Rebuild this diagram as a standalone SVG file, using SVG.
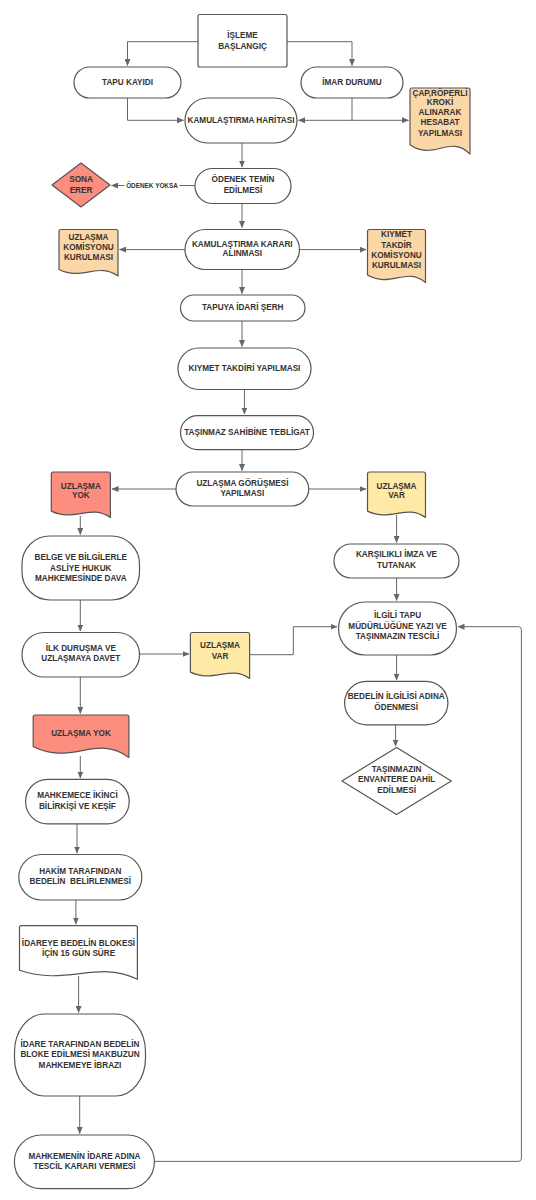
<svg xmlns="http://www.w3.org/2000/svg" width="536" height="1200" viewBox="0 0 536 1200">
<defs>
<marker id="ah" markerWidth="7" markerHeight="6" refX="6.5" refY="3" orient="auto" markerUnits="userSpaceOnUse"><path d="M0,0 L7,3 L0,6 z" fill="#666"/></marker>
</defs>
<style>
.n{fill:#fff;stroke:#555;stroke-width:1.2;stroke-linejoin:round}
.peach{fill:#FBD6A6}
.salmon{fill:#FC8D7F}
.yellow{fill:#FEEAA6}
.t{font-family:"Liberation Sans",Arial,sans-serif;font-weight:bold;font-size:8.2px;fill:#333;text-anchor:middle}
.lbl{font-size:6.4px}
.c{fill:none;stroke:#666;stroke-width:1;marker-end:url(#ah)}
</style>
<rect width="536" height="1200" fill="#fff"/>
<g id="connectors">
<path class="c" d="M198,41.7 H127.5 V65.5"/>
<path class="c" d="M287,41.7 H352 V65.5"/>
<path class="c" d="M127.5,98 V120.3 H183.5"/>
<path class="c" d="M352,98 V120.3 H298.5"/>
<path class="c" d="M352,120.3 H408.5"/>
<path class="c" d="M242,143 V167"/>
<path class="c" d="M195,185.5 H111.5"/>
<path class="c" d="M242,203.5 V227.5"/>
<path class="c" d="M185,249.6 H119.5"/>
<path class="c" d="M299.5,249.6 H366"/>
<path class="c" d="M242,269.5 V293.5"/>
<path class="c" d="M242,321 V346.5"/>
<path class="c" d="M244.4,389.6 V414"/>
<path class="c" d="M242,449.7 V470.5"/>
<path class="c" d="M176,489 H112"/>
<path class="c" d="M308.7,489 H366"/>
<path class="c" d="M80.3,516 V534.5"/>
<path class="c" d="M396.6,515 V542.5"/>
<path class="c" d="M396.6,578 V600.5"/>
<path class="c" d="M80.3,600 V631"/>
<path class="c" d="M139.5,654 H189"/>
<path class="c" d="M249.6,654.7 H293.3 V626.7 H337"/>
<path class="c" d="M396.6,655 V680"/>
<path class="c" d="M395.6,725 V746"/>
<path class="c" d="M80.3,677 V713.5"/>
<path class="c" d="M80.3,756 V778"/>
<path class="c" d="M77,824 V853"/>
<path class="c" d="M75.9,900 V924"/>
<path class="c" d="M78.6,976 V1012.5"/>
<path class="c" d="M79.7,1096 V1133.5"/>
<path class="c" d="M154.5,1161.4 H518.4 Q521.4,1161.4 521.4,1158.4 V629.7 Q521.4,626.7 518.4,626.7 H458"/>
<rect x="124.5" y="181" width="55" height="8.5" fill="#fff"/>
<text class="t lbl" x="152" y="187.6">ÖDENEK YOKSA</text>
</g>
<g id="n-start">
<rect class="n" x="198" y="14.5" width="89" height="52.5" rx="2"/>
<text class="t" x="242.5" y="38.4">İŞLEME</text>
<text class="t" x="242.5" y="49">BAŞLANGIÇ</text>
</g>
<g id="n-tapu">
<rect class="n" x="74" y="67" width="107" height="31" rx="15.5"/>
<text class="t" x="127.5" y="85.4">TAPU KAYIDI</text>
</g>
<g id="n-imar">
<rect class="n" x="301" y="67" width="102" height="31" rx="15.5"/>
<text class="t" x="352" y="85.4">İMAR DURUMU</text>
</g>
<g id="n-harita">
<rect class="n" x="185" y="98" width="112" height="45" rx="22.5"/>
<text class="t" x="241" y="123.2">KAMULAŞTIRMA HARİTASI</text>
</g>
<g id="n-cap">
<path class="n peach" d="M412,88 H468 Q470,88 470,90 V154 C450.2,133.8 434,161.4 410,144.8 V90 Q410,88 412,88 Z"/>
<text class="t" x="440" y="95.8">ÇAP,RÖPERLİ</text>
<text class="t" x="440" y="105.4">KROKİ</text>
<text class="t" x="440" y="115.4">ALINARAK</text>
<text class="t" x="440" y="125.4">HESABAT</text>
<text class="t" x="440" y="135.5">YAPILMASI</text>
</g>
<g id="n-odenek">
<rect class="n" x="195" y="168.5" width="96" height="35" rx="17.5"/>
<text class="t" x="243" y="182.4">ÖDENEK TEMİN</text>
<text class="t" x="243" y="192.9">EDİLMESİ</text>
</g>
<g id="n-sona">
<polygon class="n salmon" points="52,185 81,163 110,185 81,207"/>
<text class="t" x="81" y="182.4">SONA</text>
<text class="t" x="81" y="192.9">ERER</text>
</g>
<g id="n-karar">
<rect class="n" x="185" y="229.5" width="114.5" height="40" rx="20"/>
<text class="t" x="242.3" y="246.7">KAMULAŞTIRMA KARARI</text>
<text class="t" x="242.3" y="256.3">ALINMASI</text>
</g>
<g id="n-uzlkom">
<path class="n peach" d="M61,229.5 H116 Q118,229.5 118,231.5 V276 C98.5,261.7 82.6,281.2 59,269.5 V231.5 Q59,229.5 61,229.5 Z"/>
<text class="t" x="88.5" y="239.9">UZLAŞMA</text>
<text class="t" x="88.5" y="250.2">KOMİSYONU</text>
<text class="t" x="88.5" y="260.4">KURULMASI</text>
</g>
<g id="n-kiymetkom">
<path class="n peach" d="M369.5,229.5 H423.5 Q425.5,229.5 425.5,231.5 V282.5 C406.4,266.2 390.7,288.4 367.5,275.1 V231.5 Q367.5,229.5 369.5,229.5 Z"/>
<text class="t" x="396.5" y="237.4">KIYMET</text>
<text class="t" x="396.5" y="247.7">TAKDİR</text>
<text class="t" x="396.5" y="257.9">KOMİSYONU</text>
<text class="t" x="396.5" y="268.2">KURULMASI</text>
</g>
<g id="n-serh">
<rect class="n" x="180.5" y="295" width="124.5" height="26" rx="13"/>
<text class="t" x="242.7" y="310">TAPUYA İDARİ ŞERH</text>
</g>
<g id="n-kiymet">
<rect class="n" x="178" y="348" width="133" height="41.5" rx="20.7"/>
<text class="t" x="244.5" y="370.6">KIYMET TAKDİRİ YAPILMASI</text>
</g>
<g id="n-teblig">
<rect class="n" x="180.5" y="415.6" width="133" height="34" rx="17"/>
<text class="t" x="247" y="435.2">TAŞINMAZ SAHİBİNE TEBLİGAT</text>
</g>
<g id="n-gorusme">
<rect class="n" x="176" y="472" width="132.7" height="34" rx="17"/>
<text class="t" x="242.4" y="485.9">UZLAŞMA GÖRÜŞMESİ</text>
<text class="t" x="242.4" y="496.4">YAPILMASI</text>
</g>
<g id="n-yok1">
<path class="n salmon" d="M53.3,472 H108.4 Q110.4,472 110.4,474 V517.5 C90.9,503.4 75,522.6 51.3,511.1 V474 Q51.3,472 53.3,472 Z"/>
<text class="t" x="80.8" y="488.5">UZLAŞMA</text>
<text class="t" x="80.8" y="498.1">YOK</text>
</g>
<g id="n-var1">
<path class="n yellow" d="M369.5,472 H423.5 Q425.5,472 425.5,474 V517.5 C406.4,503.4 390.7,522.6 367.5,511.1 V474 Q367.5,472 369.5,472 Z"/>
<text class="t" x="396.5" y="488.5">UZLAŞMA</text>
<text class="t" x="396.5" y="498.1">VAR</text>
</g>
<g id="n-belge">
<rect class="n" x="22" y="536" width="117.5" height="64" rx="28"/>
<text class="t" x="80.8" y="560.3">BELGE VE BİLGİLERLE</text>
<text class="t" x="80.8" y="570.6">ASLİYE HUKUK</text>
<text class="t" x="80.8" y="580.5">MAHKEMESİNDE DAVA</text>
</g>
<g id="n-karsilikli">
<rect class="n" x="334" y="544" width="125" height="34" rx="17"/>
<text class="t" x="396.5" y="557.3">KARŞILIKLI İMZA VE</text>
<text class="t" x="396.5" y="567.5">TUTANAK</text>
</g>
<g id="n-ilgili">
<rect class="n" x="338.5" y="602" width="118" height="53" rx="26.5"/>
<text class="t" x="397.5" y="618.3">İLGİLİ TAPU</text>
<text class="t" x="397.5" y="628.5">MÜDÜRLÜĞÜNE YAZI VE</text>
<text class="t" x="397.5" y="638.8">TAŞINMAZIN TESCİLİ</text>
</g>
<g id="n-ilk">
<rect class="n" x="22" y="632.5" width="117.5" height="44.5" rx="22"/>
<text class="t" x="80.8" y="650.9">İLK DURUŞMA VE</text>
<text class="t" x="80.8" y="661">UZLAŞMAYA DAVET</text>
</g>
<g id="n-var2">
<path class="n yellow" d="M192.4,632.5 H247.6 Q249.6,632.5 249.6,634.5 V678.5 C230.1,664.4 214.1,683.6 190.4,672.1 V634.5 Q190.4,632.5 192.4,632.5 Z"/>
<text class="t" x="220" y="648.4">UZLAŞMA</text>
<text class="t" x="220" y="658.6">VAR</text>
</g>
<g id="n-bedelin">
<rect class="n" x="344.6" y="681.4" width="103.3" height="43.4" rx="21.7"/>
<text class="t" x="396.2" y="698.6">BEDELİN İLGİLİSİ ADINA</text>
<text class="t" x="396.2" y="709.6">ÖDENMESİ</text>
</g>
<g id="n-yok2">
<path class="n salmon" d="M35.2,715 H126.9 Q128.9,715 128.9,717 V757.5 C97.3,733.3 71.5,766.3 33.2,746.5 V717 Q33.2,715 35.2,715 Z"/>
<text class="t" x="81" y="735.5">UZLAŞMA YOK</text>
</g>
<g id="n-envanter">
<polygon class="n" points="341.9,781 396.6,747.5 451.3,781 396.6,814.5"/>
<text class="t" x="396.6" y="771.9">TAŞINMAZIN</text>
<text class="t" x="396.6" y="782.2">ENVANTERE DAHİL</text>
<text class="t" x="396.6" y="792.5">EDİLMESİ</text>
</g>
<g id="n-mahkemece">
<rect class="n" x="25.6" y="779.3" width="103.6" height="44.5" rx="22"/>
<text class="t" x="77.4" y="798.3">MAHKEMECE İKİNCİ</text>
<text class="t" x="77.4" y="808.5">BİLİRKİŞİ VE KEŞİF</text>
</g>
<g id="n-hakim">
<rect class="n" x="18.8" y="854.5" width="123" height="45.5" rx="22.7"/>
<text class="t" x="80.3" y="873.9">HAKİM TARAFINDAN</text>
<text class="t" x="80.3" y="883.8">BEDELİN&#160; BELİRLENMESİ</text>
</g>
<g id="n-idareye">
<path class="n" d="M21.5,925.6 H135.4 Q137.4,925.6 137.4,927.6 V979.3 C98.5,959.5 66.7,986.5 19.5,970.3 V927.6 Q19.5,925.6 21.5,925.6 Z"/>
<text class="t" x="78.5" y="945.6">İDAREYE BEDELİN BLOKESİ</text>
<text class="t" x="78.5" y="955.9">İÇİN 15 GÜN SÜRE</text>
</g>
<g id="n-idare">
<rect class="n" x="14.5" y="1014" width="131" height="82" rx="30" ry="38"/>
<text class="t" x="80" y="1046.9">İDARE TARAFINDAN BEDELİN</text>
<text class="t" x="80" y="1057.3">BLOKE EDİLMESİ MAKBUZUN</text>
<text class="t" x="80" y="1067.5">MAHKEMEYE İBRAZI</text>
</g>
<g id="n-mahkemenin">
<rect class="n" x="14.4" y="1135" width="140" height="53.7" rx="26.8"/>
<text class="t" x="84.5" y="1159.1">MAHKEMENİN İDARE ADINA</text>
<text class="t" x="84.5" y="1169.4">TESCİL KARARI VERMESİ</text>
</g>
</svg>
